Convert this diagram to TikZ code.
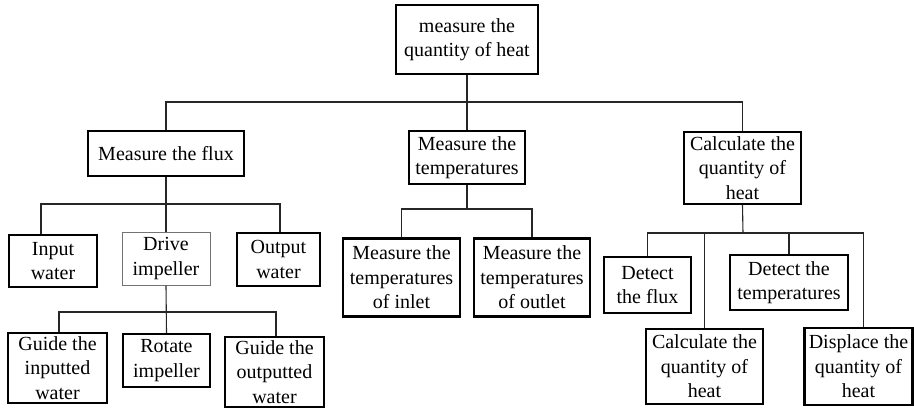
\documentclass[tikz,border=0pt]{standalone}
\usepackage{fontspec}
\setmainfont{Liberation Serif}
\usepackage{tikz}
\usetikzlibrary{positioning,calc}
\tikzset{
	box/.style={draw,line width=1.1pt,align=center,inner sep=0pt,
		font=\fontsize{20}{24.5}\selectfont},
	leaf/.style={box,line width=2.5pt},
	soft/.style={box,draw=black!55,line width=1pt},
	link/.style={line width=1.1pt,black!85}
}

\begin{document}
\begin{tikzpicture}[x=1pt,y=-1pt]
\useasboundingbox (0,0) rectangle (914,408);

%Racine
\node[box,minimum width=142,minimum height=69] (top) at (467,39.5) {measure the\\quantity of heat};

%Niveau 1
\node[box,minimum width=156,minimum height=45] (flux) at (166,153.5) {Measure the flux};
\node[box,minimum width=116,minimum height=53] (temps) at (467,157.5) {Measure the\\temperatures};
\node[box,minimum width=117,minimum height=72] (calc) at (742.5,168) {Calculate the\\quantity of\\heat};

%Sous le flux
\node[leaf,minimum width=88,minimum height=52] (input) at (53,261) {Input\\water};
\node[soft,minimum width=88,minimum height=53] (drive) at (166,258.5) {Drive\\impeller};
\node[leaf,minimum width=83,minimum height=53] (output) at (278.5,259.5) {Output\\water};
\node[leaf,minimum width=99,minimum height=70] (guidein) at (57.5,368) {Guide the\\inputted\\water};
\node[leaf,minimum width=87,minimum height=53] (rotate) at (166.5,360.5) {Rotate\\impeller};
\node[leaf,minimum width=99,minimum height=70] (guideout) at (274.5,372) {Guide the\\outputted\\water};

%Sous les temperatures
\node[leaf,minimum width=117,minimum height=78] (inlet) at (401.5,277.5) {Measure the\\temperatures\\of inlet};
\node[leaf,minimum width=116,minimum height=78] (outlet) at (532,277.5) {Measure the\\temperatures\\of outlet};

%Sous le calcul
\node[leaf,minimum width=87,minimum height=56] (dflux) at (647.5,285) {Detect\\the flux};
\node[leaf,minimum width=118,minimum height=55] (dtemps) at (789,282.5) {Detect the\\temperatures};
\node[leaf,minimum width=117,minimum height=75] (cheat) at (704.5,366.5) {Calculate the\\quantity of\\heat};
\node[leaf,minimum width=108,minimum height=77] (displace) at (858.5,366.5) {Displace the\\quantity of\\heat};

%Liaisons
\coordinate (b0) at (467,102);
\coordinate (b1) at (166,204);
\coordinate (b2) at (166,312);
\coordinate (b3) at (467,209);
\coordinate (b4) at (743,233);

\draw[link] (top.south) -- (temps.north);
\draw[link] (flux.north) |- (b0) -| (calc.north);

\draw[link] (flux.south) -- (drive.north);
\draw[link] ([xshift=-12pt]input.north) |- (b1) -| ([xshift=1.5pt]output.north);

\draw[link] (drive.south) -- (rotate.north);
\draw[link] ([xshift=1.5pt]guidein.north) |- (b2) -| ([xshift=1.5pt]guideout.north);

\draw[link] (temps.south) -- (b3);
\draw[link] (inlet.north) |- (b3) -| (outlet.north);

\draw[link] (calc.south) -- (b4);
\draw[link] (dflux.north) |- (b4) -| ([xshift=5pt]displace.north);
\draw[link] (cheat.north) -- (cheat.north |- b4);
\draw[link] (dtemps.north) -- (dtemps.north |- b4);

\end{tikzpicture}
\end{document}
